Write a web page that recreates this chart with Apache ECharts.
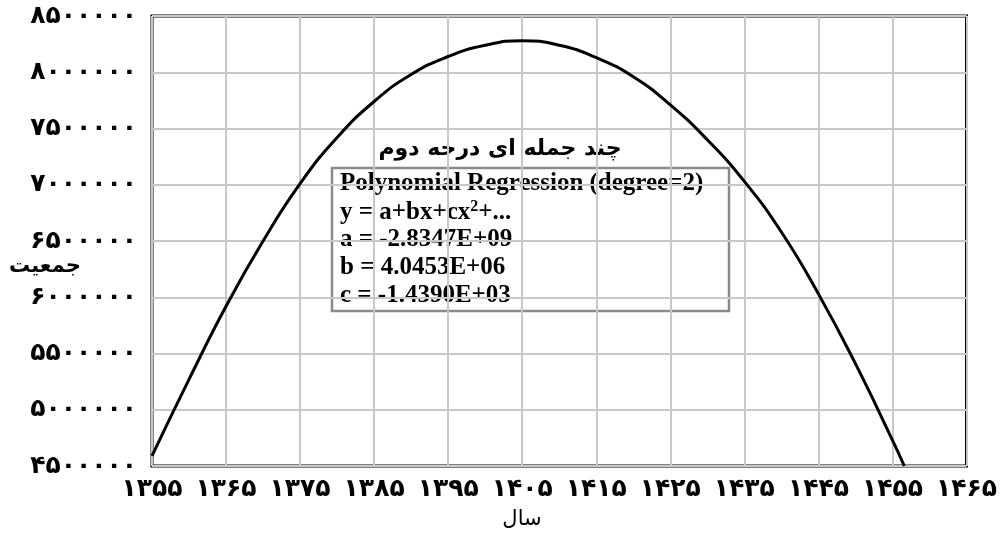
<!DOCTYPE html>
<html>
<head>
<meta charset="utf-8">
<style>
  html, body { margin: 0; padding: 0; background: #fff; }
  #chart { width: 1000px; height: 537px; }
</style>
<script src="https://cdn.jsdelivr.net/npm/echarts@6/dist/echarts.min.js"></script>
</head>
<body>
<div id="chart"></div>
<script>
// سال و جمعیت (خوانده شده از نمودار)
var years = [1355, 1360, 1365, 1370, 1375, 1380, 1385, 1390, 1395, 1400, 1405,
  1410, 1415, 1420, 1425, 1430, 1435, 1440, 1445, 1450, 1455, 1456.6]
var population = [4590000, 5270000, 5920000, 6500000, 7010000, 7420000, 7740000, 7980000, 8140000, 8240000, 8280000,
  8240000, 8130000, 7960000, 7710000, 7400000, 7030000, 6580000, 6030000, 5410000, 4730000, 4500000]

var titleFa = 'چند جمله ای درجه دوم'
var boxLines = [
  'Polynomial Regression (degree=2)',
  '{n|y = a+bx+cx}{s|2}{n|+...}',
  'a = -2.8347E+09',
  'b = 4.0453E+06',
  'c = -1.4390E+03'
]

function toFa(v) {
  return String(v).replace(/\d/g, function (d) { return '۰۱۲۳۴۵۶۷۸۹'[d] })
}

var points = years.map(function (y, i) { return [y, population[i]] })

var faFont = 'DejaVu Sans'
var serif = 'Liberation Serif'

var graphics = [
  {
    type: 'text', x: 500, y: 149,
    style: { text: titleFa, font: 'bold 22px "' + faFont + '"', fill: '#000', align: 'center', verticalAlign: 'middle' }
  },
  {
    type: 'rect', shape: { x: 332, y: 168, width: 397, height: 143 },
    style: { fill: 'none', stroke: '#8a8a8a', lineWidth: 2.5 }
  },
  {
    type: 'text', x: 45, y: 267,
    style: { text: 'جمعیت', font: 'bold 21px "' + faFont + '"', fill: '#000', align: 'center', verticalAlign: 'middle' }
  },
  {
    type: 'text', x: 522, y: 520,
    style: { text: 'سال', font: '21px "' + faFont + '"', fill: '#000', align: 'center', verticalAlign: 'middle' }
  }
]

boxLines.forEach(function (line, i) {
  graphics.push({
    type: 'text', x: 340, y: 184 + i * 28,
    style: {
      text: line,
      font: 'bold 25px "' + serif + '"',
      fill: '#000',
      verticalAlign: 'middle',
      rich: {
        n: { fontFamily: serif, fontWeight: 'bold', fontSize: 25, verticalAlign: 'bottom', lineHeight: 26 },
        s: { fontFamily: serif, fontWeight: 'bold', fontSize: 16, verticalAlign: 'top', lineHeight: 26 }
      }
    }
  })
})

var myChart = echarts.init(document.getElementById('chart'))
myChart.setOption({
  animation: false,
  backgroundColor: '#fff',
  grid: {
    left: 152, right: 27, top: 16, bottom: 71,
    show: true, borderColor: '#000', borderWidth: 3, backgroundColor: 'transparent'
  },
  xAxis: {
    type: 'value', min: 1355, max: 1465, interval: 10,
    axisLine: { show: false },
    axisTick: { show: false },
    splitLine: { show: true, lineStyle: { color: '#c8c8c8', width: 2 } },
    axisLabel: {
      margin: 11, color: '#000', fontFamily: faFont, fontWeight: 'bold', fontSize: 25,
      formatter: function (v) { return toFa(v) }
    }
  },
  yAxis: {
    type: 'value', min: 4500000, max: 8500000, interval: 500000,
    axisLine: { show: false },
    axisTick: { show: false },
    splitLine: { show: true, lineStyle: { color: '#c8c8c8', width: 2 } },
    axisLabel: {
      margin: 15, color: '#000', fontFamily: faFont, fontWeight: 'bold', fontSize: 25,
      formatter: function (v) { return toFa(v) }
    }
  },
  series: [{
    type: 'line',
    data: points,
    smooth: true,
    showSymbol: false,
    lineStyle: { color: '#000', width: 3 },
    z: 3
  }],
  graphic: graphics
})
</script>
</body>
</html>
